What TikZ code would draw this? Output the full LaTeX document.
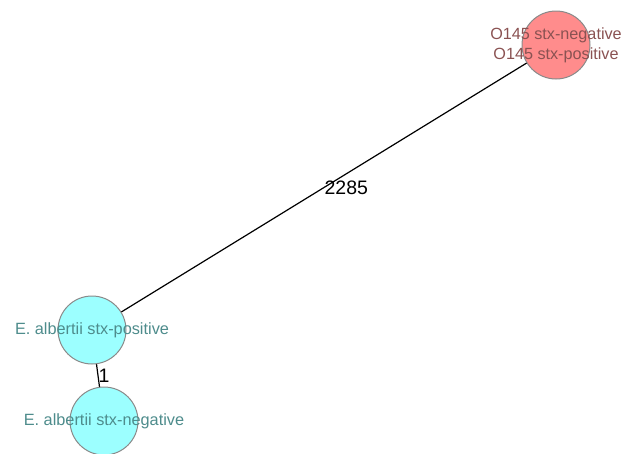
\documentclass[tikz,border=0pt]{standalone}
\usepackage{fontspec}
\setmainfont{Liberation Sans}
\usepackage{xcolor}
\definecolor{pinkFill}  {HTML}{FF8C8C}
\definecolor{cyanFill}  {HTML}{9CFFFF}
\definecolor{ringGray}  {HTML}{8A8A8A}
\definecolor{pinkText}  {HTML}{8A5252}
\definecolor{cyanText}  {HTML}{4E8C8C}
\usetikzlibrary{positioning}
\tikzset{
    cluster/.style={circle, draw=ringGray, line width=1pt, minimum size=68pt,
                    inner sep=0pt},
    pinkcl/.style={cluster, fill=pinkFill},
    cyancl/.style={cluster, fill=cyanFill},
    pinklab/.style={text=pinkText, align=center,
                    font=\fontsize{16.2}{20}\selectfont},
    cyanlab/.style={text=cyanText, font=\fontsize{16.3}{20}\selectfont},
    dist/.style={-, line width=1.2pt, black},
    distlab/.style={anchor=west, inner sep=0pt,
                    font=\fontsize{19.5}{21}\selectfont},
}
\begin{document}
\begin{tikzpicture}[x=1pt, y=-1pt]
    \useasboundingbox (0,0) rectangle (624,453);
    % distance edges (under the circles)
    \coordinate (o) at (556,45);
    \coordinate (p) at (92,330);
    \coordinate (n) at (104,421);
    \draw[dist] (p) -- node[distlab] {2285} (o);
    \draw[dist] (p) -- node[distlab] {1} (n);
    % clusters
    \node[pinkcl,  label={[pinklab]center:O145 stx-negative\\O145 stx-positive}] (o145) at (o) {};
    \node[cyancl, label={[cyanlab]center:E. albertii stx-positive}] (albpos) at (p) {};
    \node[cyancl, label={[cyanlab]center:E. albertii stx-negative}] (albneg) at (n) {};
\end{tikzpicture}
\end{document}
